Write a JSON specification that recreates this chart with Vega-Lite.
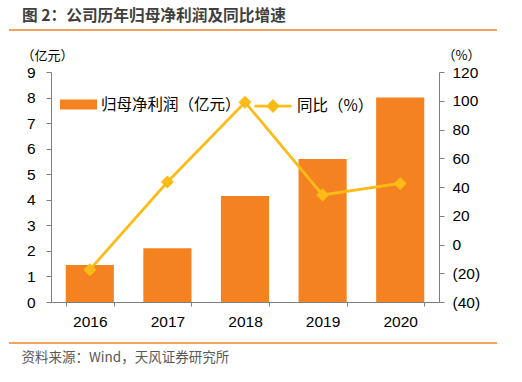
{
  "$schema": "https://vega.github.io/schema/vega-lite/v6.json",
  "autosize": "none",
  "width": 388,
  "height": 230,
  "padding": {"left": 51, "top": 72, "right": 83, "bottom": 80},
  "background": "white",
  "config": {
    "view": {"stroke": null},
    "font": "Liberation Sans",
    "axis": {"labelFont": "Liberation Sans", "labelFontSize": 15.5, "labelColor": "#000000", "domainColor": "#7f7f7f", "tickColor": "#7f7f7f", "grid": false}
  },
  "title": {
    "text": "图 2：公司历年归母净利润及同比增速",
    "anchor": "start",
    "frame": "group",
    "font": "Noto Sans CJK SC",
    "fontSize": 15.7,
    "fontWeight": "bold",
    "color": "#3f3f3f",
    "dx": -29,
    "offset": 5
  },
  "data": {
    "values": [
      {"year": "2016", "profit": 1.45, "yoy": -17.5},
      {"year": "2017", "profit": 2.1, "yoy": 43.5},
      {"year": "2018", "profit": 4.15, "yoy": 99},
      {"year": "2019", "profit": 5.6, "yoy": 34.5},
      {"year": "2020", "profit": 8.0, "yoy": 42.5}
    ]
  },
  "encoding": {
    "x": {
      "field": "year", "type": "nominal",
      "scale": {"paddingInner": 0.38, "paddingOuter": 0.19},
      "axis": {
        "labelAngle": 0, "tickBand": "extent", "tickSize": 4, "labelPadding": 8,
        "title": "资料来源：Wind，天风证券研究所",
        "titleFont": "Noto Sans CJK SC", "titleFontSize": 13.5, "titleFontWeight": "normal",
        "titleColor": "#595959", "titleAnchor": "start", "titleAlign": "left",
        "titleX": -30, "titleY": 55, "titleBaseline": "middle"
      }
    }
  },
  "layer": [
    {
      "mark": {"type": "bar"},
      "encoding": {
        "y": {
          "field": "profit", "type": "quantitative",
          "scale": {"domain": [0, 9], "nice": false},
          "axis": {
            "orient": "left", "values": [0,1,2,3,4,5,6,7,8,9], "tickSize": 5, "labelPadding": 11,
            "title": "（亿元）", "titleAngle": 0, "titleFont": "Noto Sans CJK SC", "titleFontSize": 13,
            "titleFontWeight": "normal", "titleColor": "#000000", "titleX": -4, "titleY": -17,
            "titleAlign": "center", "titleBaseline": "middle"
          }
        },
        "fill": {
          "datum": "归母净利润（亿元）",
          "scale": {"range": ["#F58220"]},
          "legend": {
            "orient": "none", "legendX": 9, "legendY": 14, "title": null,
            "symbolType": "M-1,-0.27L1,-0.27L1,0.27L-1,0.27Z", "symbolSize": 1369,
            "symbolStrokeWidth": 0,
            "labelFont": "Noto Sans CJK SC", "labelFontSize": 15.5, "labelColor": "#000000",
            "labelOffset": 4
          }
        }
      }
    },
    {
      "mark": {"type": "line", "strokeWidth": 2.75},
      "encoding": {
        "y": {
          "field": "yoy", "type": "quantitative",
          "scale": {"domain": [-40, 120], "nice": false},
          "axis": {
            "orient": "right", "values": [-40,-20,0,20,40,60,80,100,120], "tickSize": 5, "labelPadding": 8,
            "labelExpr": "datum.value < 0 ? '(' + abs(datum.value) + ')' : datum.label",
            "title": "（%）", "titleAngle": 0, "titleFont": "Noto Sans CJK SC", "titleFontSize": 13,
            "titleFontWeight": "normal", "titleColor": "#000000", "titleX": 22, "titleY": -17,
            "titleAlign": "center", "titleBaseline": "middle"
          }
        },
        "stroke": {
          "datum": "同比（%）",
          "scale": {"range": ["#FDBB16"]},
          "legend": {
            "orient": "none", "legendX": 202, "legendY": 14, "title": null,
            "symbolType": "M-1,0L1,0M0,-0.27L0.27,0L0,0.27L-0.27,0Z", "symbolSize": 1369,
            "symbolStrokeWidth": 2.75, "symbolFillColor": "#FDBB16",
            "labelFont": "Noto Sans CJK SC", "labelFontSize": 15.5, "labelColor": "#000000",
            "labelOffset": 4
          }
        }
      }
    },
    {
      "mark": {"type": "point", "shape": "diamond", "size": 169, "filled": true, "color": "#FDBB16", "opacity": 1},
      "encoding": {
        "y": {"field": "yoy", "type": "quantitative", "scale": {"domain": [-40, 120], "nice": false}, "axis": null}
      }
    },
    {
      "data": {"values": [{"p": "top"}]},
      "mark": {"type": "rule", "color": "#F0862A", "strokeWidth": 1.5},
      "encoding": {"x": {"value": -42}, "x2": {"value": 446}, "y": {"value": -42}}
    },
    {
      "data": {"values": [{"p": "bottom"}]},
      "mark": {"type": "rule", "color": "#F0862A", "strokeWidth": 1.5},
      "encoding": {"x": {"value": -42}, "x2": {"value": 446}, "y": {"value": 271}}
    }
  ],
  "resolve": {"scale": {"y": "independent"}}
}
